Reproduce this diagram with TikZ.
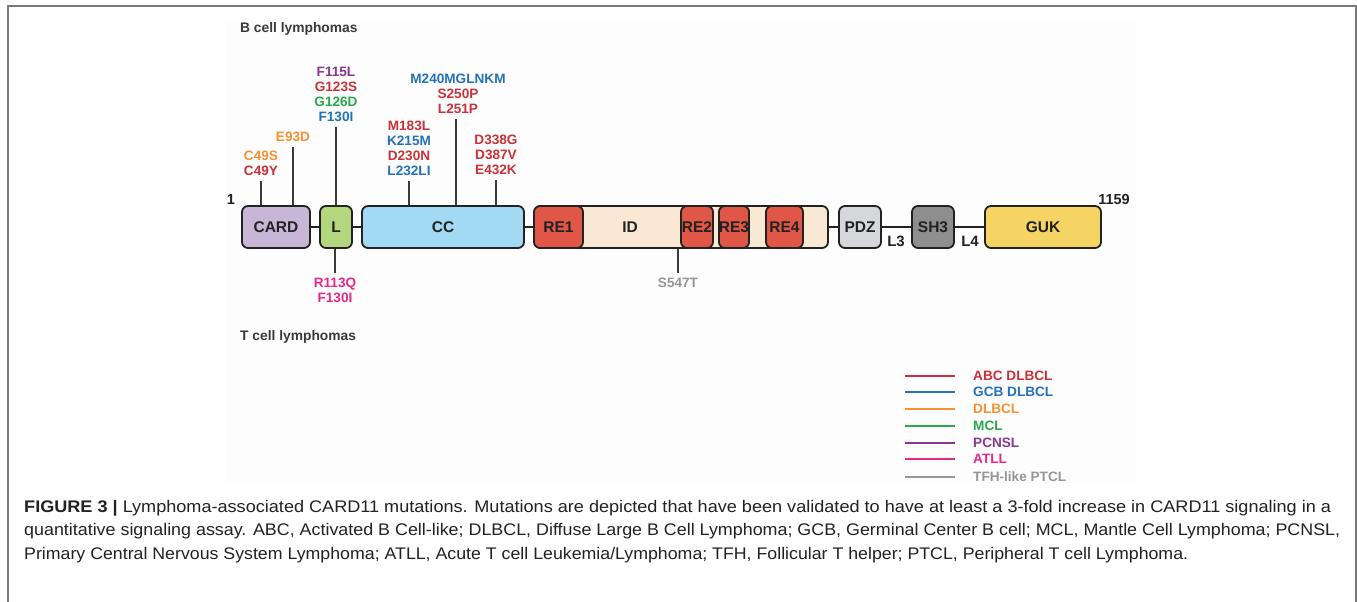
\documentclass[tikz,border=0pt]{standalone}
\usepackage{fontspec}
\setmainfont{Liberation Sans}
\usepackage{graphicx}
\definecolor{abc}{RGB}{200,50,56}
\definecolor{gcb}{RGB}{35,114,185}
\definecolor{dlb}{RGB}{245,145,50}
\definecolor{mcl}{RGB}{40,168,74}
\definecolor{pcn}{RGB}{135,55,145}
\definecolor{atl}{RGB}{230,40,140}
\definecolor{tfh}{RGB}{150,150,150}
\definecolor{cardc}{RGB}{200,182,215}
\definecolor{lc}{RGB}{180,215,125}
\definecolor{ccc}{RGB}{162,218,243}
\definecolor{rec}{RGB}{224,87,72}
\definecolor{idc}{RGB}{248,232,212}
\definecolor{pdzc}{RGB}{214,215,218}
\definecolor{shc}{RGB}{142,142,142}
\definecolor{gukc}{RGB}{245,212,100}
\definecolor{ink}{RGB}{34,34,34}
\definecolor{head}{RGB}{58,58,58}
\definecolor{framec}{RGB}{120,120,120}
\definecolor{panel}{RGB}{254,253,253}
\begin{document}
\begin{tikzpicture}[x=1pt,y=-1pt,
  dom/.style={draw=ink, line width=1.8pt, rounded corners=6pt, minimum height=42pt,
    inner sep=0pt, text=ink, font=\fontsize{15.5}{18}\selectfont\bfseries},
  stem/.style={draw=head, line width=1.8pt},
  link/.style={draw=ink, line width=1.8pt},
  mut/.style={align=center, inner xsep=0pt, inner ysep=5pt,
    font=\fontsize{13.6}{15}\selectfont\bfseries},
  lbl/.style={text=ink, inner sep=0pt, font=\fontsize{15}{18}\selectfont\bfseries},
  headtxt/.style={text=head, anchor=west, inner sep=0pt, font=\fontsize{13.8}{16}\selectfont\bfseries},
  legline/.style={line width=2pt},
  legtxt/.style={anchor=west, inner sep=0pt, font=\fontsize{13.6}{16}\selectfont\bfseries},
  captxt/.style={anchor=base west, inner sep=0pt, text=ink, font=\fontsize{16.8}{20}\selectfont}
]
\useasboundingbox (0,0) rectangle (1357,602);
\fill[white] (0,0) rectangle (1357,602);
\fill[panel] (226,21) rectangle (1136,483);
\draw[framec, line width=2pt] (7.5,602) -- (7.5,6.5) -- (1355.5,6.5) -- (1355.5,602);

% headings
\node[headtxt] (bhead) at (240,29) {B cell lymphomas};
\node[headtxt] (thead) at (240,337) {T cell lymphomas};

% domains
\node[dom, fill=cardc, minimum width=68pt] (card) at (276,227) {CARD};
\node[dom, fill=lc, minimum width=32pt] (l) at (336,227) {L};
\node[dom, fill=ccc, minimum width=162pt] (cc) at (443,227) {CC};
\node[dom, fill=idc, minimum width=293pt] (id) at (681.5,227) {};
\node[lbl, font=\fontsize{15.5}{18}\selectfont\bfseries] (idlab) at (630,227) {ID};
\node[dom, fill=rec, minimum width=49pt] (re1) at (558.5,227) {RE1};
\node[dom, fill=rec, minimum width=32pt] (re2) at (697,227) {RE2};
\node[dom, fill=rec, minimum width=30pt] (re3) at (734,227) {RE3};
\node[dom, fill=rec, minimum width=37pt] (re4) at (784.5,227) {RE4};
\node[dom, fill=pdzc, minimum width=42pt] (pdz) at (860,227) {PDZ};
\node[dom, fill=shc, minimum width=42pt] (sh3) at (933,227) {SH3};
\node[dom, fill=gukc, minimum width=116pt] (guk) at (1043,227) {GUK};

% linkers
\draw[link] (card.east) -- (l.west);
\draw[link] (l.east) -- (cc.west);
\draw[link] (cc.east) -- (re1.west);
\draw[link] (id.east) -- (pdz.west);
\draw[link] (pdz.east) -- (sh3.west);
\draw[link] (sh3.east) -- (guk.west);

\node[lbl] (l3) at (896,241) {L3};
\node[lbl] (l4) at (970,241) {L4};
\node[lbl, font=\fontsize{14.5}{17}\selectfont\bfseries] (n1) at (231,200) {1};
\node[lbl, font=\fontsize{14.5}{17}\selectfont\bfseries] (n1159) at (1114,200) {1159};

% top mutation stems
\coordinate (s1) at (261,181);
\coordinate (s2) at (293,147);
\coordinate (s3) at (336,127);
\coordinate (s4) at (409,181);
\coordinate (s5) at (456,119);
\coordinate (s6) at (496,180);
\draw[stem] (s1) -- (s1 |- card.north);
\draw[stem] (s2) -- (s2 |- card.north);
\draw[stem] (s3) -- (s3 |- l.north);
\draw[stem] (s4) -- (s4 |- cc.north);
\draw[stem] (s5) -- (s5 |- cc.north);
\draw[stem] (s6) -- (s6 |- cc.north);

\node[mut, anchor=south] (m1) at (s1) {\color{dlb}C49S\\\color{abc}C49Y};
\node[mut, anchor=south] (m2) at (s2) {\color{dlb}E93D};
\node[mut, anchor=south] (m3) at (s3) {\color{pcn}F115L\\\color{abc}G123S\\\color{mcl}G126D\\\color{gcb}F130I};
\node[mut, anchor=south] (m4) at (s4) {\color{abc}M183L\\\color{gcb}K215M\\\color{abc}D230N\\\color{gcb}L232LI};
\node[mut, anchor=south] (m5) at ([xshift=2pt]s5) {\color{gcb}M240MGLNKM\\\color{abc}S250P\\\color{abc}L251P};
\node[mut, anchor=south] (m6) at (s6) {\color{abc}D338G\\\color{abc}D387V\\\color{abc}E432K};

% bottom mutation stems
\coordinate (b1) at (335,273);
\coordinate (b2) at (678,273);
\draw[stem] (b1 |- l.south) -- (b1);
\draw[stem] (b2 |- id.south) -- (b2);
\node[mut, anchor=north] (m7) at (b1) {\color{atl}R113Q\\\color{atl}F130I};
\node[mut, anchor=north] (m8) at (b2) {\color{tfh}S547T};

% legend
\foreach \c/\t/\yy [count=\i] in {abc/ABC DLBCL/376, gcb/GCB DLBCL/392, dlb/DLBCL/409, mcl/MCL/426, pcn/PCNSL/443, atl/ATLL/459, tfh/TFH-like PTCL/477}{
  \coordinate (la\i) at (905,\yy);
  \coordinate (lb\i) at (955,\yy);
  \draw[legline, \c] (la\i) -- (lb\i);
  \node[legtxt, text=\c] (lt\i) at (973,\yy) {\t};
}

% caption
\node[captxt] (cap1) at (24,512) {\resizebox{1307pt}{\height}{\textbf{FIGURE 3 |} Lymphoma-associated CARD11 mutations. Mutations are depicted that have been validated to have at least a 3-fold increase in CARD11 signaling in a}};
\node[captxt] (cap2) at (24,535) {\resizebox{1316pt}{\height}{quantitative signaling assay. ABC, Activated B Cell-like; DLBCL, Diffuse Large B Cell Lymphoma; GCB, Germinal Center B cell; MCL, Mantle Cell Lymphoma; PCNSL,}};
\node[captxt] (cap3) at (24,559) {\resizebox{1164pt}{\height}{Primary Central Nervous System Lymphoma; ATLL, Acute T cell Leukemia/Lymphoma; TFH, Follicular T helper; PTCL, Peripheral T cell Lymphoma.}};
\end{tikzpicture}
\end{document}
